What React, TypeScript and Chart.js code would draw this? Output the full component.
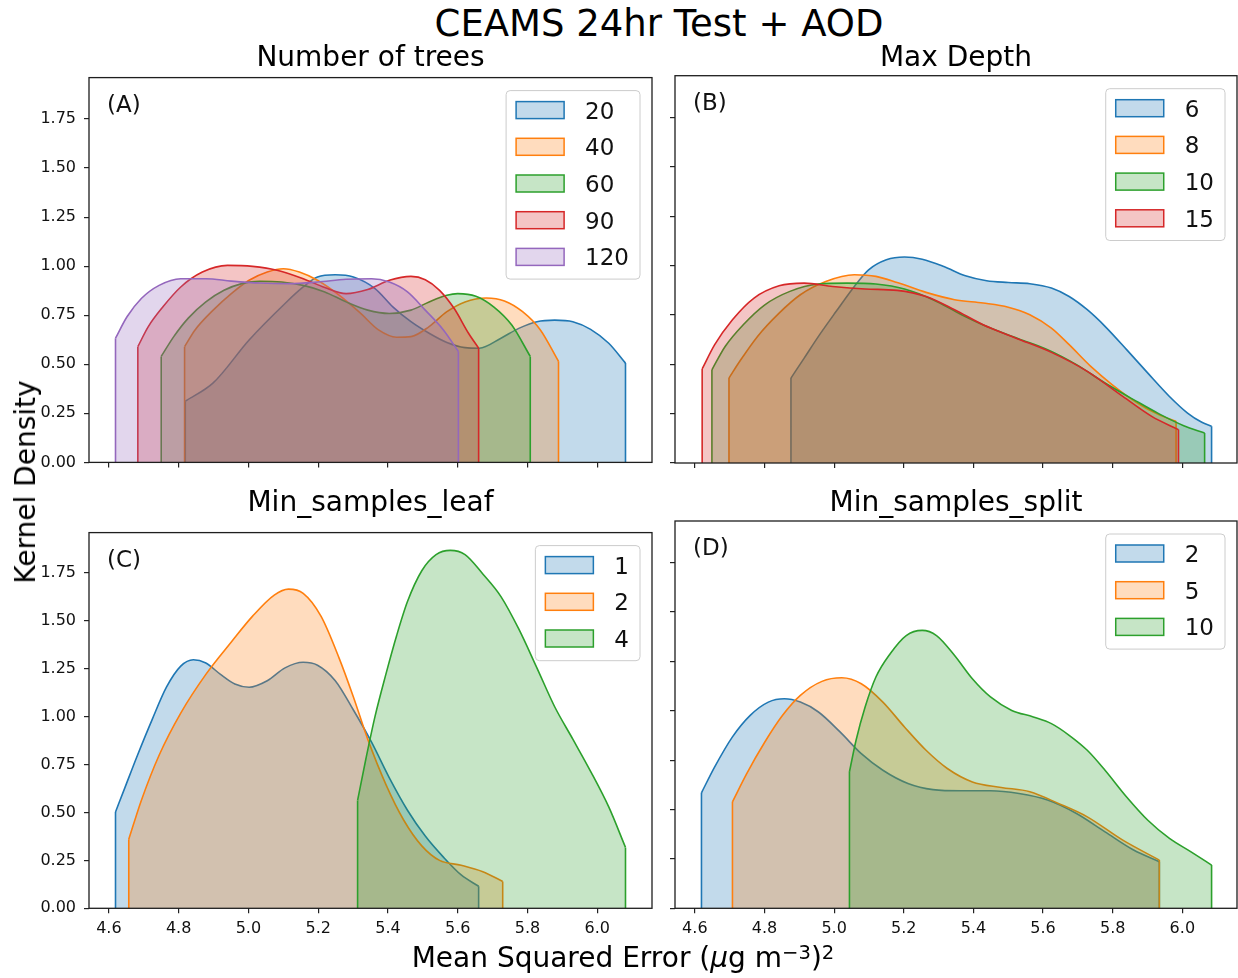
import React, { useEffect, useRef } from "react";
import { Chart, registerables } from "chart.js";

Chart.register(...registerables);

const FONT = '"DejaVu Sans", "Liberation Sans", Arial, sans-serif';
Chart.defaults.font.family = FONT;

// ---------------- data ----------------
const xTickValues = [4.6, 4.8, 5.0, 5.2, 5.4, 5.6, 5.8, 6.0];
const yTickValues = [0, 0.25, 0.5, 0.75, 1.0, 1.25, 1.5, 1.75];
const X_MIN = 4.543;
const X_MAX = 6.157;
const Y_MAX = 1.961;

const COLORS = ["#1f77b4", "#ff7f0e", "#2ca02c", "#d62728", "#9467bd"];

const treesLabels = ["20", "40", "60", "90", "120"];
const trees20 = [[4.819,0.312],[4.899,0.405],[5.002,0.624],[5.105,0.810],[5.157,0.894],[5.198,0.945],[5.249,0.956],[5.301,0.945],[5.363,0.886],[5.414,0.793],[5.466,0.717],[5.518,0.658],[5.569,0.611],[5.621,0.585],[5.662,0.582],[5.724,0.633],[5.775,0.683],[5.827,0.717],[5.878,0.725],[5.930,0.717],[5.981,0.678],[6.033,0.607],[6.081,0.506]];
const trees40 = [[4.817,0.590],[4.847,0.675],[4.899,0.776],[4.951,0.860],[5.002,0.928],[5.054,0.970],[5.100,0.987],[5.146,0.970],[5.198,0.928],[5.260,0.852],[5.322,0.759],[5.373,0.675],[5.425,0.638],[5.466,0.641],[5.518,0.692],[5.569,0.768],[5.621,0.818],[5.682,0.838],[5.734,0.823],[5.786,0.768],[5.837,0.675],[5.889,0.515]];
const trees60 = [[4.750,0.540],[4.786,0.641],[4.827,0.734],[4.878,0.818],[4.930,0.877],[4.981,0.911],[5.033,0.923],[5.095,0.919],[5.157,0.902],[5.219,0.869],[5.280,0.818],[5.342,0.776],[5.404,0.759],[5.466,0.776],[5.518,0.818],[5.569,0.852],[5.600,0.860],[5.652,0.847],[5.703,0.793],[5.755,0.700],[5.808,0.540]];
const trees90 = [[4.683,0.590],[4.713,0.692],[4.755,0.793],[4.806,0.894],[4.868,0.970],[4.940,1.004],[5.012,0.999],[5.085,0.978],[5.157,0.936],[5.219,0.891],[5.280,0.860],[5.342,0.881],[5.404,0.928],[5.466,0.948],[5.507,0.931],[5.548,0.877],[5.590,0.784],[5.631,0.658],[5.660,0.582]];
const trees120 = [[4.619,0.633],[4.652,0.742],[4.693,0.835],[4.744,0.902],[4.806,0.936],[4.878,0.936],[4.951,0.924],[5.033,0.914],[5.115,0.911],[5.198,0.919],[5.280,0.933],[5.353,0.936],[5.404,0.919],[5.456,0.869],[5.507,0.776],[5.559,0.675],[5.602,0.565]];

const depthLabels = ["6", "8", "10", "15"];
const depth6 = [[4.876,0.430],[4.914,0.531],[4.955,0.641],[5.006,0.768],[5.058,0.894],[5.099,0.978],[5.150,1.029],[5.202,1.043],[5.253,1.032],[5.315,0.995],[5.377,0.948],[5.438,0.923],[5.500,0.914],[5.562,0.908],[5.624,0.886],[5.675,0.843],[5.727,0.776],[5.778,0.692],[5.840,0.574],[5.901,0.455],[5.963,0.337],[6.015,0.253],[6.056,0.206],[6.084,0.186]];
const depth8 = [[4.698,0.430],[4.729,0.515],[4.780,0.641],[4.842,0.759],[4.903,0.852],[4.976,0.919],[5.058,0.953],[5.120,0.945],[5.181,0.914],[5.264,0.864],[5.346,0.827],[5.428,0.810],[5.500,0.789],[5.562,0.751],[5.624,0.683],[5.675,0.599],[5.737,0.489],[5.799,0.396],[5.871,0.304],[5.932,0.245],[5.982,0.211]];
const depth10 = [[4.649,0.472],[4.687,0.590],[4.739,0.700],[4.801,0.801],[4.873,0.869],[4.955,0.906],[5.037,0.911],[5.120,0.906],[5.202,0.881],[5.284,0.827],[5.366,0.751],[5.449,0.683],[5.531,0.628],[5.613,0.574],[5.696,0.498],[5.778,0.405],[5.860,0.321],[5.932,0.250],[6.004,0.189],[6.064,0.152]];
const depth15 = [[4.621,0.476],[4.657,0.599],[4.708,0.725],[4.770,0.835],[4.842,0.897],[4.914,0.911],[4.996,0.894],[5.089,0.881],[5.181,0.874],[5.264,0.843],[5.346,0.776],[5.428,0.700],[5.521,0.633],[5.624,0.560],[5.727,0.464],[5.829,0.337],[5.912,0.236],[5.989,0.169]];

const leafLabels = ["1", "2", "4"];
const leaf1 = [[4.619,0.503],[4.646,0.630],[4.682,0.799],[4.724,0.985],[4.765,1.154],[4.806,1.264],[4.842,1.297],[4.878,1.280],[4.920,1.221],[4.961,1.171],[5.002,1.154],[5.054,1.188],[5.105,1.255],[5.157,1.284],[5.198,1.269],[5.249,1.188],[5.301,1.035],[5.353,0.867],[5.404,0.681],[5.456,0.512],[5.507,0.377],[5.559,0.267],[5.610,0.174],[5.660,0.115]];
const leaf2 = [[4.657,0.360],[4.693,0.563],[4.744,0.799],[4.806,1.019],[4.878,1.221],[4.951,1.390],[5.012,1.525],[5.074,1.635],[5.115,1.666],[5.157,1.644],[5.208,1.525],[5.260,1.306],[5.301,1.103],[5.342,0.883],[5.394,0.647],[5.445,0.461],[5.497,0.326],[5.548,0.250],[5.610,0.225],[5.672,0.191],[5.729,0.140]];
const leaf4 = [[5.313,0.563],[5.337,0.782],[5.363,1.002],[5.394,1.221],[5.425,1.424],[5.456,1.601],[5.497,1.762],[5.538,1.846],[5.579,1.868],[5.621,1.846],[5.672,1.745],[5.724,1.627],[5.775,1.458],[5.827,1.255],[5.878,1.052],[5.930,0.883],[5.981,0.715],[6.033,0.529],[6.081,0.318]];

const splitLabels = ["2", "5", "10"];
const split2 = [[4.619,0.585],[4.657,0.716],[4.708,0.868],[4.759,0.977],[4.811,1.044],[4.857,1.061],[4.903,1.044],[4.955,0.994],[5.017,0.893],[5.078,0.783],[5.140,0.699],[5.212,0.632],[5.284,0.601],[5.366,0.595],[5.449,0.595],[5.531,0.581],[5.613,0.548],[5.696,0.480],[5.778,0.387],[5.860,0.295],[5.934,0.236]];
const split5 = [[4.708,0.539],[4.749,0.682],[4.801,0.842],[4.852,0.977],[4.903,1.078],[4.965,1.149],[5.022,1.167],[5.078,1.137],[5.140,1.044],[5.202,0.918],[5.264,0.800],[5.325,0.708],[5.397,0.640],[5.480,0.612],[5.562,0.590],[5.644,0.531],[5.727,0.463],[5.829,0.345],[5.934,0.244]];
const split10 = [[5.044,0.691],[5.063,0.851],[5.089,1.019],[5.120,1.171],[5.161,1.289],[5.207,1.381],[5.253,1.407],[5.294,1.381],[5.346,1.280],[5.397,1.162],[5.449,1.070],[5.510,1.002],[5.572,0.969],[5.624,0.935],[5.675,0.876],[5.727,0.800],[5.778,0.699],[5.840,0.564],[5.901,0.446],[5.963,0.354],[6.025,0.286],[6.084,0.219]];

// ---------------- layout ----------------
type Rect = { x: number; y: number; w: number; h: number };
type PanelCfg = {
  tag: string;
  labels: string[];
  series: number[][][];
  canvas: Rect;
  area: { l: number; t: number; r: number; b: number };
  showX: boolean;
  showY: boolean;
};

const TOP_T = 75.7, TOP_B = 463, BOT_T = 521, BOT_B = 908.3;
const L_L = 89, L_R = 652, R_L = 675, R_R = 1237;

const PANELS: PanelCfg[] = [
  { tag: "(A)", labels: treesLabels, series: [trees20, trees40, trees60, trees90, trees120],
    canvas: { x: 20, y: 60, w: 640, h: 420 }, area: { l: L_L, t: TOP_T, r: L_R, b: TOP_B }, showX: false, showY: true },
  { tag: "(B)", labels: depthLabels, series: [depth6, depth8, depth10, depth15],
    canvas: { x: 660, y: 60, w: 578, h: 420 }, area: { l: R_L, t: TOP_T, r: R_R, b: TOP_B }, showX: false, showY: false },
  { tag: "(C)", labels: leafLabels, series: [leaf1, leaf2, leaf4],
    canvas: { x: 20, y: 515, w: 640, h: 430 }, area: { l: L_L, t: BOT_T, r: L_R, b: BOT_B }, showX: true, showY: true },
  { tag: "(D)", labels: splitLabels, series: [split2, split5, split10],
    canvas: { x: 660, y: 515, w: 578, h: 430 }, area: { l: R_L, t: BOT_T, r: R_R, b: BOT_B }, showX: true, showY: false },
];

const FILL_ALPHA = 0.27;
function rgba(hex: string, a: number) {
  const n = parseInt(hex.slice(1), 16);
  return `rgba(${(n >> 16) & 255},${(n >> 8) & 255},${n & 255},${a})`;
}

function overlayPlugin(p: PanelCfg) {
  return {
    id: "overlay",
    afterDatasetsDraw(chart: any) {
      const { ctx, chartArea: a } = chart;
      ctx.save();
      // frame
      ctx.strokeStyle = "#1e1e1e";
      ctx.lineWidth = 1.3;
      ctx.strokeRect(a.left, a.top, a.right - a.left, a.bottom - a.top);
      // panel tag
      const fs = 23;
      ctx.font = `${fs}px ${FONT}`;
      ctx.fillStyle = "#111";
      ctx.textAlign = "left";
      ctx.textBaseline = "alphabetic";
      ctx.fillText(p.tag, a.left + 18, a.top + 34);
      // legend
      const rowH = 36.7;
      const maxW = Math.max(...p.labels.map((l) => ctx.measureText(l).width));
      const boxW = 10 + 48 + 21 + maxW + 11;
      const boxH = p.labels.length * rowH + 5;
      const bx = a.right - 12 - boxW;
      const by = a.top + 13;
      ctx.beginPath();
      if (ctx.roundRect) ctx.roundRect(bx, by, boxW, boxH, 4);
      else ctx.rect(bx, by, boxW, boxH);
      ctx.fillStyle = "rgba(255,255,255,0.8)";
      ctx.fill();
      ctx.strokeStyle = "#cccccc";
      ctx.lineWidth = 1;
      ctx.stroke();
      p.labels.forEach((lab, i) => {
        const cy = by + 19.5 + i * rowH;
        const col = COLORS[i];
        ctx.fillStyle = rgba(col, FILL_ALPHA);
        ctx.fillRect(bx + 10, cy - 8.5, 48, 17);
        ctx.strokeStyle = col;
        ctx.lineWidth = 1.5;
        ctx.strokeRect(bx + 10, cy - 8.5, 48, 17);
        ctx.fillStyle = "#111";
        ctx.fillText(lab, bx + 79, cy + 8.4);
      });
      ctx.restore();
    },
  };
}

function Panel({ p }: { p: PanelCfg }) {
  const ref = useRef<HTMLCanvasElement>(null);
  useEffect(() => {
    const canvas = ref.current!;
    const n = p.series.length;
    const datasets: any[] = [];
    p.series.forEach((s, i) => {
      const col = COLORS[i];
      const first = s[0];
      const last = s[s.length - 1];
      datasets.push({
        label: p.labels[i],
        data: s.map(([x, y]) => ({ x, y })),
        borderColor: col,
        backgroundColor: rgba(col, FILL_ALPHA),
        borderWidth: 1.6,
        fill: "origin",
        pointRadius: 0,
        cubicInterpolationMode: "monotone",
        order: 2 * (n - i),
      });
      datasets.push({
        label: p.labels[i] + "-edges",
        data: [
          { x: first[0], y: 0 },
          { x: first[0], y: first[1] },
          { x: (first[0] + last[0]) / 2, y: null },
          { x: last[0], y: last[1] },
          { x: last[0], y: 0 },
        ],
        borderColor: col,
        borderWidth: 1.6,
        fill: false,
        pointRadius: 0,
        tension: 0,
        spanGaps: false,
        order: 2 * (n - i) - 1,
      });
    });

    const c = p.canvas;
    const a = p.area;
    const chart = new Chart(canvas, {
      type: "line",
      data: { datasets },
      options: {
        animation: false,
        responsive: false,
        devicePixelRatio: 1,
        events: [],
        layout: { padding: { top: a.t - c.y, right: c.x + c.w - a.r, bottom: 0, left: 0 } },
        plugins: { legend: { display: false }, tooltip: { enabled: false }, title: { display: false } },
        scales: {
          x: {
            type: "linear",
            min: X_MIN,
            max: X_MAX,
            afterBuildTicks: (axis: any) => {
              axis.ticks = xTickValues.map((v) => ({ value: v }));
            },
            afterFit: (axis: any) => {
              axis.height = c.y + c.h - a.b;
            },
            ticks: {
              display: p.showX,
              autoSkip: false,
              maxRotation: 0,
              padding: 6,
              color: "#111",
              font: { size: 16, family: FONT },
              callback: (v: any) => Number(v).toFixed(1),
            },
            grid: { drawOnChartArea: false, drawTicks: true, tickLength: 5, color: "#222", lineWidth: 1.2 },
            border: { display: false },
          },
          y: {
            type: "linear",
            min: 0,
            max: Y_MAX,
            afterBuildTicks: (axis: any) => {
              axis.ticks = yTickValues.map((v) => ({ value: v }));
            },
            afterFit: (axis: any) => {
              axis.width = a.l - c.x;
            },
            ticks: {
              display: p.showY,
              autoSkip: false,
              padding: 8,
              color: "#111",
              font: { size: 16, family: FONT },
              callback: (v: any) => Number(v).toFixed(2),
            },
            grid: { drawOnChartArea: false, drawTicks: true, tickLength: 5, color: "#222", lineWidth: 1.2 },
            border: { display: false },
          },
        },
      } as any,
      plugins: [overlayPlugin(p)],
    });
    return () => chart.destroy();
  }, [p]);
  const c = p.canvas;
  return (
    <canvas
      ref={ref}
      width={c.w}
      height={c.h}
      style={{ position: "absolute", left: c.x, top: c.y, width: c.w, height: c.h }}
    />
  );
}

function Text({ x, baseline, fs, children }: { x: number; baseline: number; fs: number; children: any }) {
  return (
    <div
      style={{
        position: "absolute",
        left: x,
        top: baseline - 0.846 * fs,
        fontSize: fs,
        lineHeight: `${fs}px`,
        fontFamily: FONT,
        whiteSpace: "nowrap",
        transform: "translateX(-50%)",
        color: "#000",
      }}
    >
      {children}
    </div>
  );
}

const supStyle: React.CSSProperties = { position: "relative", top: "-0.42em", fontSize: "0.7em" };

export default function App() {
  return (
    <div style={{ position: "absolute", left: 0, top: 0, width: 1238, height: 978, background: "#fff", overflow: "hidden" }}>
      {PANELS.map((p, i) => (
        <Panel key={i} p={p} />
      ))}
      <Text x={659} baseline={36} fs={37}>CEAMS 24hr Test + AOD</Text>
      <Text x={(L_L + L_R) / 2} baseline={67} fs={28}>Number of trees</Text>
      <Text x={(R_L + R_R) / 2} baseline={67} fs={28}>Max Depth</Text>
      <Text x={(L_L + L_R) / 2} baseline={512} fs={28}>Min_samples_leaf</Text>
      <Text x={(R_L + R_R) / 2} baseline={512} fs={28}>Min_samples_split</Text>
      <Text x={623} baseline={968} fs={28}>
        Mean Squared Error (<i>μ</i>g m<span style={supStyle}>−3</span>)<span style={supStyle}>2</span>
      </Text>
      <div
        style={{
          position: "absolute",
          left: 25.8,
          top: 482,
          fontSize: 28,
          lineHeight: "28px",
          fontFamily: FONT,
          whiteSpace: "nowrap",
          transform: "translate(-50%, -50%) rotate(-90deg)",
          color: "#000",
        }}
      >
        Kernel Density
      </div>
    </div>
  );
}
